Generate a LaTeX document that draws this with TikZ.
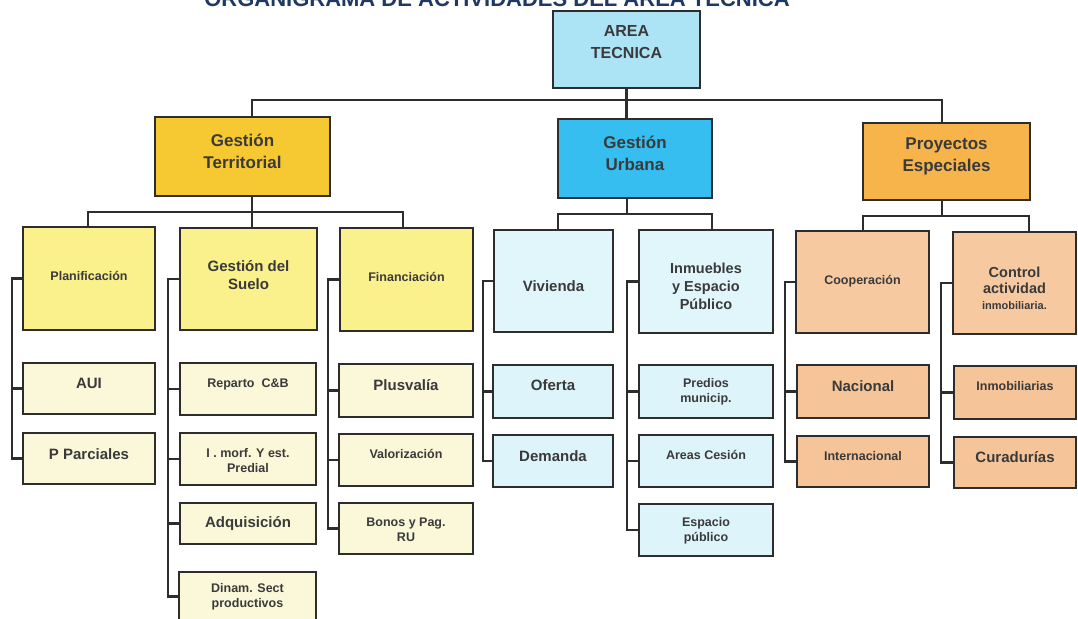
\documentclass[tikz,border=0pt]{standalone}
\usepackage{fontspec}
\setmainfont{Liberation Sans}
\definecolor{linec}{RGB}{45,45,45}
\definecolor{txtc}{RGB}{58,58,58}
\definecolor{navy}{RGB}{31,56,100}
\definecolor{atfill}{RGB}{172,228,246}
\definecolor{gtfill}{RGB}{246,200,50}
\definecolor{gufill}{RGB}{54,190,240}
\definecolor{pefill}{RGB}{246,180,75}
\definecolor{gtmid}{RGB}{250,240,140}
\definecolor{gtlow}{RGB}{250,248,216}
\definecolor{gumid}{RGB}{225,246,251}
\definecolor{gulow}{RGB}{221,244,250}
\definecolor{pemid}{RGB}{246,201,160}
\definecolor{pelow}{RGB}{245,196,152}
% strut helpers: \hs = height of first line, \ds = depth of last line
\newcommand{\hs}[1]{\rule{0pt}{#1pt}}
\newcommand{\ds}[1]{\rule[-#1pt]{0pt}{#1pt}}
% \bx{name}{left}{top}{right}{bottom}{options}{text}
\newcommand{\bx}[7]{\node[box,minimum width={(#4-#2)*1pt},minimum height={(#5-#3)*1pt},#6] (#1) at ({(#2+#4)/2},{(#3+#5)/2}) {#7};}
\begin{document}
\begin{tikzpicture}[x=1pt,y=-1pt,
  box/.style={draw=linec,line width=2.8pt,rectangle,inner sep=0pt,outer sep=0pt,align=center,text=txtc},
  conn/.style={draw=linec,line width=2.3pt},
  toptxt/.style={font=\fontsize{16}{22}\selectfont\bfseries},
  lvone/.style={font=\fontsize{17}{22}\selectfont\bfseries},
  big/.style={font=\fontsize{15}{18}\selectfont\bfseries},
  mid/.style={font=\fontsize{14.5}{18}\selectfont\bfseries},
  small/.style={font=\fontsize{12.5}{14.5}\selectfont\bfseries}]
\useasboundingbox (0,0) rectangle (1078,618);
\fill[white] (0,0) rectangle (1078,618);
% title (partly cut by the top edge, as in the reference)
\node[anchor=base,font=\fontsize{22}{26}\selectfont\bfseries,text=navy,inner sep=0pt] (title) at (497,7) {ORGANIGRAMA DE ACTIVIDADES DEL AREA TECNICA};
% level 0 and 1
\bx{at}{553}{11}{700}{88}{toptxt,fill=atfill}{\hs{13}AREA\\TECNICA\ds{16.6}}
\bx{gt}{155}{117}{330}{196}{lvone,fill=gtfill}{\hs{13.5}Gestión\\Territorial\ds{12.3}}
\bx{gu}{558}{119}{712}{198}{lvone,fill=gufill}{\hs{13.5}Gestión\\Urbana\ds{12.3}}
\bx{pe}{863}{123}{1030}{200}{lvone,fill=pefill}{\hs{13.5}Proyectos\\Especiales\ds{16.3}}
% level 2
\bx{plan}{23}{227}{155}{330}{small,fill=gtmid}{\hs{10}Planificación\ds{6}}
\bx{gds}{180}{228}{317}{330}{big,fill=gtmid}{\hs{12}Gestión del\\Suelo\ds{9.2}}
\bx{fin}{340}{228}{473}{331}{small,fill=gtmid}{\hs{10}Financiación\ds{6}}
\bx{viv}{494}{230}{613}{332}{big,fill=gumid}{\hs{22.8}Vivienda\ds{2}}
\bx{inm}{639}{230}{773}{333}{mid,fill=gumid}{\hs{22.4}Inmuebles\\y Espacio\\Público\ds{3}}
\bx{coop}{796}{231}{929}{333}{small,fill=pemid}{\hs{10}Cooperación\ds{5}}
\bx{ctrl}{953}{232}{1076}{334}{mid,fill=pemid,font=\fontsize{14.5}{16}\selectfont\bfseries}{\hs{23.4}Control\\actividad\\{\fontsize{11}{13}\selectfont inmobiliaria.}\ds{3}}
% level 3
\bx{aui}{23}{363}{155}{414}{big,fill=gtlow}{\hs{11}AUI\ds{11}}
\bx{ppar}{23}{433}{155}{484}{big,fill=gtlow}{\hs{12}P Parciales\ds{10.3}}
\bx{rep}{180}{363}{316}{415}{small,fill=gtlow}{\hs{10}Reparto\ \ C\&B\ds{13}}
\bx{imorf}{180}{433}{316}{485}{small,fill=gtlow}{\hs{14.5}I . morf. Y est.\\Predial\ds{3}}
\bx{adq}{180}{503}{316}{544}{big,fill=gtlow}{\hs{11.8}Adquisición\ds{4}}
\bx{dinam}{179}{572}{316}{621}{small,fill=gtlow}{\hs{10.5}Dinam. Sect\\productivos\ds{4}}
\bx{plus}{339}{364}{473}{417}{big,fill=gtlow}{\hs{11.5}Plusvalía\ds{11.5}}
\bx{valo}{339}{434}{473}{486}{small,fill=gtlow}{\hs{10}Valorización\ds{13}}
\bx{bonos}{339}{503}{473}{554}{small,fill=gtlow}{\hs{13.5}Bonos y Pag.\\RU\ds{3}}
\bx{ofe}{493}{365}{613}{418}{big,fill=gulow}{\hs{11}Oferta\ds{13.3}}
\bx{dem}{493}{435}{613}{487}{big,fill=gulow}{\hs{11.5}Demanda\ds{10.8}}
\bx{pred}{639}{365}{773}{418}{small,fill=gulow}{\hs{10}Predios\\municip.\ds{3.5}}
\bx{areas}{639}{435}{773}{487}{small,fill=gulow}{\hs{10}Areas Cesión\ds{13}}
\bx{esp}{639}{504}{773}{556}{small,fill=gulow}{\hs{11}Espacio\\público\ds{3.5}}
\bx{nac}{797}{365}{929}{418}{big,fill=pelow}{\hs{11}Nacional\ds{11}}
\bx{intl}{797}{436}{929}{487}{small,fill=pelow}{\hs{10}Internacional\ds{12}}
\bx{inmo}{954}{366}{1076}{419}{small,fill=pelow}{\hs{10}Inmobiliarias\ds{14}}
\bx{cura}{954}{437}{1076}{488}{big,fill=pelow}{\hs{11.5}Curadurías\ds{11.5}}
% top connectors
\coordinate (bL) at (252,100);
\coordinate (bR) at (942,100);
\draw[conn] (at.south) -- (at.south |- gu.north);
\draw[conn] (bL |- gt.north) -- (bL) -- (bR) -- (bR |- pe.north);
% Gestion Territorial
\coordinate (gtL) at (88,212);
\coordinate (gtS) at (252,212);
\coordinate (gtR) at (403,212);
\draw[conn] (gtL |- plan.north) -- (gtL) -- (gtR) -- (gtR |- fin.north);
\draw[conn] (gtS |- gt.south) -- (gtS |- gds.north);
% Gestion Urbana
\coordinate (guL) at (558,214);
\coordinate (guS) at (627,214);
\coordinate (guR) at (712,214);
\draw[conn] (guL |- viv.north) -- (guL) -- (guR) -- (guR |- inm.north);
\draw[conn] (guS |- gu.south) -- (guS);
% Proyectos Especiales
\coordinate (peL) at (863,216);
\coordinate (peS) at (942,216);
\coordinate (peR) at (1029,216);
\draw[conn] (peL |- coop.north) -- (peL) -- (peR) -- (peR |- ctrl.north);
\draw[conn] (peS |- pe.south) -- (peS);
% side connectors
\coordinate (xpl) at (12,0);
\coordinate (xgd) at (168,0);
\coordinate (xfi) at (328,0);
\coordinate (xvi) at (483,0);
\coordinate (xin) at (627,0);
\coordinate (xco) at (785,0);
\coordinate (xct) at (941,0);
\draw[conn] (plan.west) -- (plan.west -| xpl) |- (ppar.west);
\draw[conn] (aui.west -| xpl) -- (aui.west);
\draw[conn] (gds.west) -- (gds.west -| xgd) |- (dinam.west);
\draw[conn] (rep.west -| xgd) -- (rep.west);
\draw[conn] (imorf.west -| xgd) -- (imorf.west);
\draw[conn] (adq.west -| xgd) -- (adq.west);
\draw[conn] (fin.west) -- (fin.west -| xfi) |- (bonos.west);
\draw[conn] (plus.west -| xfi) -- (plus.west);
\draw[conn] (valo.west -| xfi) -- (valo.west);
\draw[conn] (viv.west) -- (viv.west -| xvi) |- (dem.west);
\draw[conn] (ofe.west -| xvi) -- (ofe.west);
\draw[conn] (inm.west) -- (inm.west -| xin) |- (esp.west);
\draw[conn] (pred.west -| xin) -- (pred.west);
\draw[conn] (areas.west -| xin) -- (areas.west);
\draw[conn] (coop.west) -- (coop.west -| xco) |- (intl.west);
\draw[conn] (nac.west -| xco) -- (nac.west);
\draw[conn] (ctrl.west) -- (ctrl.west -| xct) |- (cura.west);
\draw[conn] (inmo.west -| xct) -- (inmo.west);
\end{tikzpicture}
\end{document}
